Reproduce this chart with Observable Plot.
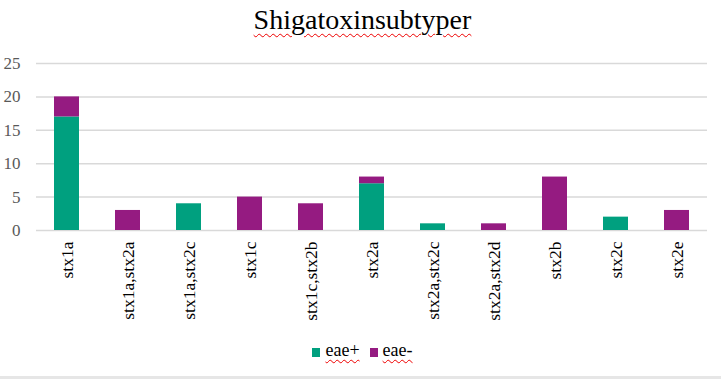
<!DOCTYPE html>
<html>
<head>
<meta charset="utf-8">
<script src="https://cdn.jsdelivr.net/npm/d3@7"></script>
<script src="https://cdn.jsdelivr.net/npm/@observablehq/plot@0.6"></script>
<style>
  body { margin: 0; background: #fff; }
  #wrap { position: relative; width: 721px; height: 381px; font-family: "Liberation Serif", "Times New Roman", serif; overflow: hidden; }
  #title { position: absolute; top: 3px; left: 2px; width: 721px; text-align: center; font-size: 28px; line-height: 34px; color: #000; }
  #title span { text-decoration: underline wavy #e00; text-decoration-thickness: 1px; text-underline-offset: 4px; }
  #chart { position: absolute; top: 45px; left: 0; }
  #legend { position: absolute; top: 339px; left: 2px; width: 721px; text-align: center; font-size: 18px; line-height: 22px; color: #000; }
  #legend .item { display: inline-block; margin: 0 5px; }
  #legend .sw { display: inline-block; width: 8px; height: 9px; margin-right: 5px; vertical-align: -1px; }
  #legend .lab { text-decoration: underline wavy #e00; text-decoration-thickness: 1px; text-underline-offset: 3px; }
  #bottomline { position: absolute; top: 376px; left: 0; width: 721px; height: 3px; background: #e6e6e6; }
</style>
</head>
<body>
<div id="wrap">
  <div id="title"><span>Shigatoxinsubtyper</span></div>
  <div id="chart"></div>
  <div id="legend"></div>
  <div id="bottomline"></div>
</div>
<script>
const categories = ["stx1a", "stx1a,stx2a", "stx1a,stx2c", "stx1c", "stx1c,stx2b", "stx2a", "stx2a,stx2c", "stx2a,stx2d", "stx2b", "stx2c", "stx2e"];
const eaePlus  = [17, 0, 4, 0, 0, 7, 1, 0, 0, 2, 0];
const eaeMinus = [3, 3, 0, 5, 4, 1, 0, 1, 8, 0, 3];
const seriesNames = ["eae+", "eae-"];
const seriesColors = ["#00a07f", "#951b81"];
const yTicks = [0, 5, 10, 15, 20, 25];

const data = [];
categories.forEach((c, i) => {
  data.push({cat: c, series: seriesNames[0], value: eaePlus[i]});
  data.push({cat: c, series: seriesNames[1], value: eaeMinus[i]});
});

const chart = Plot.plot({
  width: 721,
  height: 290,
  marginLeft: 36,
  marginRight: 14,
  marginTop: 18,
  marginBottom: 105,
  style: {fontFamily: "'Liberation Serif', 'Times New Roman', serif", fontSize: "17px", background: "transparent"},
  x: {domain: categories, paddingInner: 0.59, paddingOuter: 0.295, label: null},
  y: {domain: [0, 25], label: null},
  color: {domain: seriesNames, range: seriesColors},
  marks: [
    Plot.ruleY(yTicks, {stroke: "#d9d9d9", strokeWidth: 1.5}),
    Plot.barY(data, {x: "cat", y: "value", fill: "series"}),
    Plot.axisY({ticks: yTicks, tickSize: 0, tickPadding: 16, fill: "#595959", fontSize: 17, label: null}),
    Plot.axisX({tickSize: 0, tickPadding: 11, tickRotate: -90, fill: "#000", fontSize: 17.5, label: null})
  ]
});
document.getElementById("chart").appendChild(chart);

const legend = document.getElementById("legend");
seriesNames.forEach((s, i) => {
  const item = document.createElement("span");
  item.className = "item";
  const sw = document.createElement("span");
  sw.className = "sw";
  sw.style.background = seriesColors[i];
  const lab = document.createElement("span");
  lab.className = "lab";
  lab.textContent = s;
  item.appendChild(sw);
  item.appendChild(lab);
  legend.appendChild(item);
});
</script>
</body>
</html>
